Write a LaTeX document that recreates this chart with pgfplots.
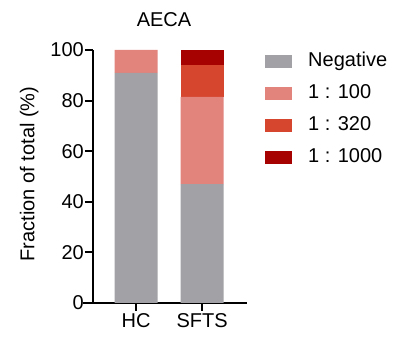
\documentclass[border=0pt]{standalone}
\usepackage{fontspec}
\setmainfont{Liberation Sans}
\usepackage{pgfplots}
\pgfplotsset{compat=1.18}
\definecolor{cneg}{HTML}{A2A1A6}
\definecolor{cone}{HTML}{E2837C}
\definecolor{ctwo}{HTML}{D6452E}
\definecolor{cthree}{HTML}{A60202}
\begin{document}
\begin{tikzpicture}[x=1pt,y=1pt]
\begin{axis}[
  at={(0,0)}, anchor=south west,
  scale only axis, width=154pt, height=253pt,
  xmin=0.348, xmax=2.68, ymin=0, ymax=100,
  ybar stacked, bar width=43pt,
  axis x line*=bottom, axis y line*=left,
  axis line style={line width=2pt,-},
  every tick/.style={line width=2pt,black},
  tick align=outside, major tick length=8pt,
  ytick={0,20,40,60,80,100},
  xtick={1,2}, xticklabels={HC,SFTS},
  /pgf/number format/assume math mode=true,
  tick label style={font=\fontsize{20}{24}\selectfont},
  yticklabel style={inner sep=1pt},
  xticklabel style={inner sep=2pt},
  title={AECA},
  title style={at={(0.461,1)}, anchor=base, yshift=17pt, font=\fontsize{20}{24}\selectfont},
  ylabel={Fraction of total (\%)},
  ylabel style={at={(axis description cs:-0.415,0.51)}, anchor=center, font=\fontsize{20}{24}\selectfont},
  clip=false,
  legend style={at={(1.117,0.99)}, anchor=north west, draw=none, fill=none,
    font=\fontsize{20}{24}\selectfont, row sep=14pt, column sep=16pt, inner sep=0pt,
    nodes={inner sep=0pt, text height=14pt, text depth=4pt, anchor=west}},
  legend cell align=left,
  legend image code/.code={\fill (0pt,-6.5pt) rectangle (27pt,6.5pt);},
]
\addplot[fill=cneg, draw=none] coordinates {(1,91) (2,47)};
\addplot[fill=cone, draw=none] coordinates {(1,9) (2,34.5)};
\addplot[fill=ctwo, draw=none] coordinates {(1,0) (2,12.5)};
\addplot[fill=cthree, draw=none] coordinates {(1,0) (2,6)};
\legend{Negative,1 : 100,1 : 320,1 : 1000}
\draw[line width=2pt] (axis cs:0.2,0) -- (axis cs:0.348,0);
\end{axis}
\pgfresetboundingbox
\path[use as bounding box] (-93pt,-48pt) rectangle (307pt,303pt);
\end{tikzpicture}
\end{document}
